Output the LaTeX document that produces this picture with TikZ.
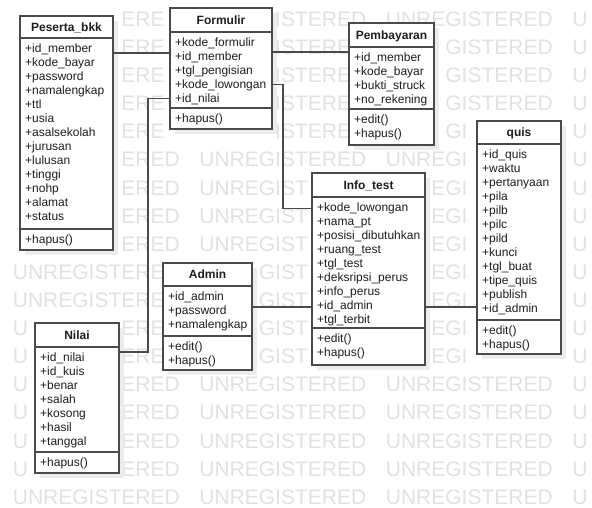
\documentclass[tikz,border=0pt]{standalone}
\usepackage{fontspec}
\setmainfont{Liberation Sans}
\usetikzlibrary{calc}
\definecolor{lineC}{HTML}{4A4A4A}
\definecolor{txtC}{HTML}{1E1E1E}
\definecolor{wmC}{HTML}{E2E2E2}
\definecolor{shC}{HTML}{ECECEC}
\tikzset{
  clsbox/.style={draw=lineC, line width=1.1pt, fill=white, inner sep=0pt, outer sep=0pt, anchor=north west},
  sepline/.style={draw=lineC, line width=1.1pt},
  clstitle/.style={font=\fontsize{12}{14}\selectfont\bfseries, text=txtC, inner sep=0pt, anchor=base},
  attr/.style={font=\fontsize{12}{14}\selectfont, text=txtC, inner sep=0pt, anchor=base west},
  conn/.style={draw=lineC, line width=1.1pt},
  wm/.style={font=\fontsize{21}{22}\selectfont, text=wmC, inner sep=0pt, anchor=base west},
  shadowbox/.style={fill=shC},
}
% name, left, right, top, header bottom, divider, bottom, title
\newcommand{\umlcls}[8]{%
  \fill[shadowbox] ({#2+5},{#4+5}) rectangle ({#3+5},{#7+5});
  \node[clsbox, minimum width={(#3-#2)*1pt}, minimum height={(#7-#4)*1pt}] (#1) at (#2,#4) {};
  \draw[sepline] (#2,#5) -- (#3,#5);
  \draw[sepline] (#2,#6) -- (#3,#6);
  \node[clstitle] (#1-title) at ({(#2+#3)/2},{(#4+#5)/2+4.3}) {#8};
}
% name, prefix, left, section top, list
\newcommand{\umlrows}[5]{%
  \foreach \t [count=\i] in {#5} {
    \coordinate (#1-#2\i) at (#3,{#4+10.5+(\i-1)*14});
    \node[attr] (#1-#2t\i) at ({#3+5},{#4+10.5+(\i-1)*14+4.3}) {\t};
  }
}
% watermark letter hidden by a class box (left, right, top, bottom)
\newcommand{\wmhit}[4]{(\wmxc>#1-3)*(\wmxc<#2+5)*(\wmyc>#3-1.5)*(\wmyc<#4+10)}
\begin{document}
\begin{tikzpicture}[x=1pt,y=-1pt]
\useasboundingbox (0,0) rectangle (592,508);
\clip (0,0) rectangle (592,508);
\fill[white] (0,0) rectangle (592,508);
% watermark (only the letters that are not covered by a class box)
\foreach \k in {0,...,17} {
  \pgfmathsetmacro\wmyc{19+28.1*\k}
  \foreach \wx in {12.7,199.2,385.7,572.2} {
    \foreach \lch/\loff/\lwid in {U/0/722,N/722/722,R/1444/722,E/2166/667,G/2833/778,I/3611/278,S/3889/667,T/4556/611,E/5167/667,R/5834/722,E/6556/667,D/7223/722} {
      \pgfmathsetmacro\wmxl{\wx+\loff*0.021}
      \pgfmathsetmacro\wmxc{\wmxl+\lwid*0.0105}
      \pgfmathtruncatemacro\wmhid{(\wmxc>588)+\wmhit{20}{113}{16}{250}+\wmhit{170}{272}{8}{129}+\wmhit{349}{434}{23}{145}+\wmhit{477}{561}{121}{354}+\wmhit{312}{425}{173}{365}+\wmhit{163}{252}{263}{370}+\wmhit{35}{119}{323}{473}}
      \ifnum\wmhid=0 \node[wm] at (\wmxl,{\wmyc+7.5}) {\lch};\fi
    }
  }
}
% classes
\umlcls{peserta}{20}{113}{16}{38}{229}{250}{Peserta\_bkk}
\umlrows{peserta}{a}{20}{38}{+id\_member,+kode\_bayar,+password,+namalengkap,+ttl,+usia,+asalsekolah,+jurusan,+lulusan,+tinggi,+nohp,+alamat,+status}
\umlrows{peserta}{m}{20}{229}{+hapus()}

\umlcls{formulir}{170}{272}{8}{32}{108}{129}{Formulir}
\umlrows{formulir}{a}{170}{32}{+kode\_formulir,+id\_member,+tgl\_pengisian,+kode\_lowongan,+id\_nilai}
\umlrows{formulir}{m}{170}{108}{+hapus()}

\umlcls{pembayaran}{349}{434}{23}{47}{109}{145}{Pembayaran}
\umlrows{pembayaran}{a}{349}{47}{+id\_member,+kode\_bayar,+bukti\_struck,+no\_rekening}
\umlrows{pembayaran}{m}{349}{109}{+edit(),+hapus()}

\umlcls{quis}{477}{561}{121}{144}{320}{354}{quis}
\umlrows{quis}{a}{477}{144}{+id\_quis,+waktu,+pertanyaan,+pila,+pilb,+pilc,+pild,+kunci,+tgl\_buat,+tipe\_quis,+publish,+id\_admin}
\umlrows{quis}{m}{477}{320}{+edit(),+hapus()}

\umlcls{infotest}{312}{425}{173}{197}{328}{365}{Info\_test}
\umlrows{infotest}{a}{312}{197}{+kode\_lowongan,+nama\_pt,+posisi\_dibutuhkan,+ruang\_test,+tgl\_test,+deksripsi\_perus,+info\_perus,+id\_admin,+tgl\_terbit}
\umlrows{infotest}{m}{312}{328}{+edit(),+hapus()}

\umlcls{admin}{163}{252}{263}{286}{336}{370}{Admin}
\umlrows{admin}{a}{163}{286}{+id\_admin,+password,+namalengkap}
\umlrows{admin}{m}{163}{336}{+edit(),+hapus()}

\umlcls{nilai}{35}{119}{323}{347}{452}{473}{Nilai}
\umlrows{nilai}{a}{35}{347}{+id\_nilai,+id\_kuis,+benar,+salah,+kosong,+hasil,+tanggal}
\umlrows{nilai}{m}{35}{452}{+hapus()}

% connector helper coordinates
\coordinate (yPF) at (0,53);
\coordinate (yFP) at (0,52);
\coordinate (bendB) at (283,208.5);
\coordinate (bendA) at (148,352);
\coordinate (yAdm) at (0,307);

% connectors
\draw[conn] (peserta.east |- yPF) -- (formulir.west |- yPF);
\draw[conn] (formulir.east |- yFP) -- (pembayaran.west |- yFP);
\draw[conn] (formulir.east |- formulir-a4) -| (bendB) -- (infotest.west |- bendB);
\draw[conn] (formulir.west |- formulir-a5) -| (bendA) -- (nilai.east |- bendA);
\draw[conn] (admin.east |- yAdm) -- (infotest.west |- yAdm);
\draw[conn] (infotest.east |- yAdm) -- (quis.west |- yAdm);
\end{tikzpicture}
\end{document}
